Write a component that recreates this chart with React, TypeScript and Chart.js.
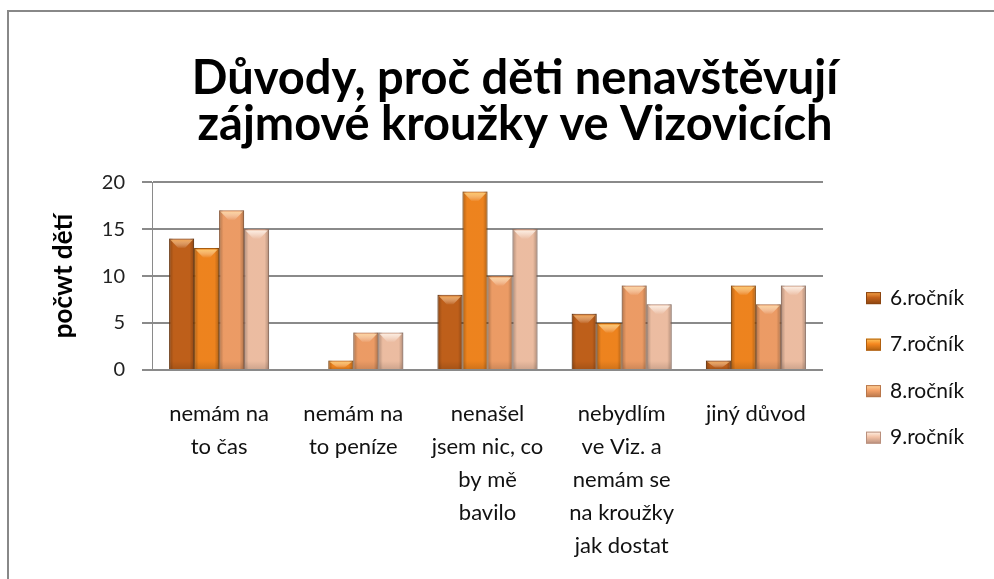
import { useEffect, useRef } from 'react';
import { Chart, registerables } from 'chart.js';

Chart.register(...registerables);

const titleLines = ['Důvody, proč děti nenavštěvují', 'zájmové kroužky ve Vizovicích'];
const yAxisTitle = 'počwt dětí';
const categories = [
  ['nemám na', 'to čas'],
  ['nemám na', 'to peníze'],
  ['nenašel', 'jsem nic, co', 'by mě', 'bavilo'],
  ['nebydlím', 've Viz. a', 'nemám se', 'na kroužky', 'jak dostat'],
  ['jiný důvod'],
];
const seriesNames = ['6.ročník', '7.ročník', '8.ročník', '9.ročník'];
const grade6 = [14, 0, 8, 6, 1];
const grade7 = [13, 1, 19, 5, 9];
const grade8 = [17, 4, 10, 9, 7];
const grade9 = [15, 4, 15, 7, 9];
const yTicks = [0, 5, 10, 15, 20];

const fills = ['#c4621b', '#f5871f', '#f3a068', '#f3c2a6'];
const edges = ['#8a4410', '#b0600f', '#b8764a', '#b98f7c'];
const highlights = ['#f7a54a', '#ffc860', '#ffd59a', '#fff2e6'];

const barDecor = {
  id: 'barDecor',
  afterDatasetsDraw(chart: any) {
    const { ctx } = chart;
    chart.data.datasets.forEach((_ds: any, di: number) => {
      const meta = chart.getDatasetMeta(di);
      meta.data.forEach((bar: any) => {
        const { x, y, base, width } = bar.getProps(['x', 'y', 'base', 'width'], true);
        const left = x - width / 2;
        const h = base - y;
        if (h <= 0.5) return;
        ctx.save();
        const g = ctx.createLinearGradient(left, 0, left + width, 0);
        g.addColorStop(0, 'rgba(0,0,0,0.28)');
        g.addColorStop(0.18, 'rgba(0,0,0,0.03)');
        g.addColorStop(0.82, 'rgba(0,0,0,0.03)');
        g.addColorStop(1, 'rgba(0,0,0,0.28)');
        ctx.fillStyle = g;
        ctx.fillRect(left, y, width, h);
        const bh = Math.min(10, h - 1);
        if (bh > 2) {
          ctx.beginPath();
          ctx.moveTo(left + 1.5, y + 1.5);
          ctx.lineTo(left + width - 1.5, y + 1.5);
          ctx.lineTo(x + width * 0.12, y + bh);
          ctx.lineTo(x - width * 0.12, y + bh);
          ctx.closePath();
          const vg = ctx.createLinearGradient(0, y, 0, y + bh);
          vg.addColorStop(0, highlights[di]);
          vg.addColorStop(1, 'rgba(255,255,255,0)');
          ctx.fillStyle = vg;
          ctx.fill();
        }
        const sh = Math.min(8, h / 3);
        const bg = ctx.createLinearGradient(0, base - sh, 0, base);
        bg.addColorStop(0, 'rgba(0,0,0,0)');
        bg.addColorStop(1, 'rgba(0,0,0,0.12)');
        ctx.fillStyle = bg;
        ctx.fillRect(left + 1, base - sh, width - 2, sh);
        ctx.restore();
      });
    });
  },
};

const customLegend = {
  id: 'customLegend',
  afterDraw(chart: any) {
    const { ctx, chartArea } = chart;
    const bx = chartArea.right + 43;
    const y0 = chartArea.top + 116;
    const step = 46.5;
    ctx.save();
    chart.data.datasets.forEach((ds: any, i: number) => {
      const cy = y0 + i * step;
      const g = ctx.createLinearGradient(0, cy - 6, 0, cy + 6);
      g.addColorStop(0, highlights[i]);
      g.addColorStop(0.45, fills[i]);
      g.addColorStop(1, edges[i]);
      ctx.fillStyle = g;
      ctx.fillRect(bx, cy - 6, 15, 12);
      ctx.strokeStyle = edges[i];
      ctx.lineWidth = 1;
      ctx.strokeRect(bx + 0.5, cy - 5.5, 14, 11);
      ctx.fillStyle = '#111';
      ctx.font = '21px Lato';
      ctx.textBaseline = 'middle';
      ctx.textAlign = 'left';
      ctx.fillText(ds.label, bx + 24, cy);
    });
    ctx.restore();
  },
};

export default function App() {
  const ref = useRef<HTMLCanvasElement | null>(null);
  useEffect(() => {
    if (!ref.current) return;
    const series = [grade6, grade7, grade8, grade9];
    const chart = new Chart(ref.current, {
      type: 'bar',
      data: {
        labels: categories,
        datasets: series.map((d, i) => ({
          label: seriesNames[i],
          data: d,
          backgroundColor: fills[i],
          borderColor: edges[i],
          borderWidth: 1,
          barPercentage: 1,
          categoryPercentage: 0.745,
        })),
      },
      options: {
        animation: false,
        responsive: false,
        devicePixelRatio: 1,
        layout: { padding: { left: 36, right: 0, top: 0, bottom: 0 } },
        plugins: {
          legend: { display: false },
          tooltip: { enabled: false },
          title: {
            display: true,
            text: titleLines,
            color: '#000',
            font: { family: 'Lato', size: 47, weight: 'bold', lineHeight: 0.98 },
            padding: { top: 56, bottom: 34 },
          },
        },
        scales: {
          x: {
            grid: { display: false },
            border: { display: false },
            ticks: {
              padding: 19,
              color: '#111',
              maxRotation: 0,
              autoSkip: false,
              font: { family: 'Lato', size: 22, lineHeight: 1.5 },
            },
            afterFit(s: any) {
              s.height = 209;
            },
          },
          y: {
            min: 0,
            max: 20,
            afterBuildTicks(s: any) {
              s.ticks = yTicks.map((v) => ({ value: v }));
            },
            ticks: {
              padding: 17,
              color: '#222',
              font: { family: 'Lato', size: 20 },
            },
            grid: { color: '#8a8a8a', lineWidth: 2, tickLength: 10, drawTicks: true },
            border: { display: true, color: '#8a8a8a', width: 1 },
            title: {
              display: true,
              text: yAxisTitle,
              color: '#000',
              font: { family: 'Lato', size: 26, weight: 'bold' },
              padding: { top: 12, bottom: 0 },
            },
            afterFit(s: any) {
              s.width = 116;
            },
          },
          yLegendSpace: {
            type: 'linear',
            position: 'right',
            display: true,
            grid: { display: false },
            border: { display: false },
            ticks: { display: false },
            afterFit(s: any) {
              s.width = 171;
            },
          },
        },
      },
      plugins: [barDecor, customLegend],
    });
    return () => chart.destroy();
  }, []);

  return (
    <div style={{ position: 'fixed', left: 0, top: 0, width: 994, height: 579, overflow: 'hidden', background: '#fff' }}>
      <canvas ref={ref} width={994} height={579} style={{ position: 'absolute', left: 0, top: 0, width: 994, height: 579 }} />
      <div
        style={{
          position: 'absolute',
          left: 7,
          top: 10,
          width: 1000,
          height: 600,
          border: '2px solid #888',
          boxSizing: 'border-box',
          pointerEvents: 'none',
        }}
      />
    </div>
  );
}
